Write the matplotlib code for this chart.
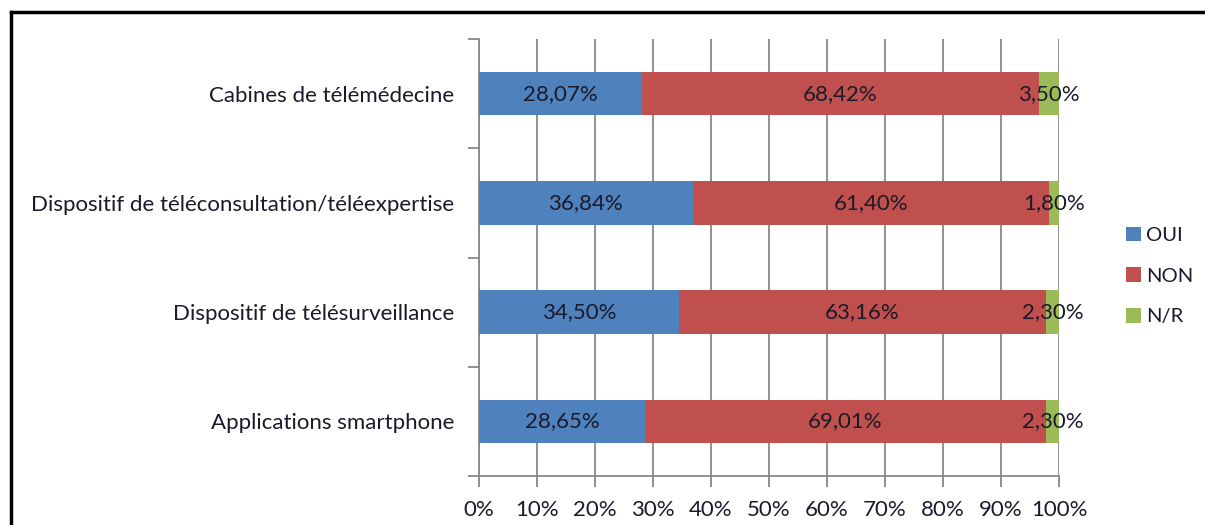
import matplotlib
matplotlib.use("Agg")
import matplotlib.pyplot as plt
from matplotlib.lines import Line2D
from matplotlib.patches import Patch
import numpy as np

categories = ["Cabines de télémédecine",
              "Dispositif de téléconsultation/téléexpertise",
              "Dispositif de télésurveillance",
              "Applications smartphone"]
oui = [28.07, 36.84, 34.50, 28.65]
non = [68.42, 61.40, 63.16, 69.01]
nr = [3.50, 1.80, 2.30, 2.30]
series_names = ["OUI", "NON", "N/R"]
colors = ["#4F81BD", "#C0504D", "#9BBB59"]
xtick_labels = ["0%", "10%", "20%", "30%", "40%", "50%", "60%", "70%", "80%", "90%", "100%"]

plt.rcParams['font.family'] = ['Lato', 'DejaVu Sans']
FS = 16

fig = plt.figure(figsize=(12.05, 5.25), dpi=100)
ax = fig.add_axes([479/1205, 1-476/525, (1059-479)/1205, (476-39)/525])

data = np.array([oui, non, nr])
totals = data.sum(axis=0)
shares = data / totals * 100
y = np.arange(len(categories))[::-1]
left = np.zeros(len(categories))
for i, name in enumerate(series_names):
    ax.barh(y, shares[i], left=left, height=0.4, color=colors[i], label=name, zorder=3)
    for j in range(len(categories)):
        ax.text(left[j] + shares[i][j] / 2, y[j], f"{data[i][j]:.2f}%".replace('.', ','),
                ha='center', va='center', fontsize=FS, color='#1a1a2a', zorder=4)
    left = left + shares[i]

ax.set_xlim(0, 100)
ax.set_ylim(-0.5, len(categories) - 0.5)
ax.set_xticks(np.arange(0, 101, 10))
ax.set_xticklabels(xtick_labels, fontsize=FS, color='#1a1a2a')
ax.set_yticks(y)
ax.set_yticklabels(categories, fontsize=FS, color='#1a1a2a')
ax.tick_params(axis='y', length=0, pad=18)
ax.set_yticks(np.arange(-0.5, len(categories), 1), minor=True)
ax.tick_params(axis='y', which='minor', length=8, direction='out', color='#888888', width=1.3)
ax.tick_params(axis='x', length=8, direction='out', color='#888888', width=1.3, pad=9)
ax.grid(axis='x', color='#888888', linewidth=1.3, zorder=0)
for s in ['top', 'right']:
    ax.spines[s].set_visible(False)
ax.spines['left'].set_color('#888888')
ax.spines['left'].set_linewidth(1.3)
ax.spines['bottom'].set_color('#888888')
ax.spines['bottom'].set_linewidth(1.3)

handles = [Patch(facecolor=c, edgecolor='none') for c in colors]
fig.legend(handles, series_names, loc='center left', bbox_to_anchor=(1126/1205, 1-276/525),
           frameon=False, fontsize=14.5, handlelength=0.75, handleheight=0.75,
           handletextpad=0.25, labelspacing=1.15, borderpad=0, borderaxespad=0,
           labelcolor='#1a1a2a')

fig.add_artist(Line2D([10.5/1205, 1.0], [1-11.5/525, 1-11.5/525], color='black', linewidth=2.5, transform=fig.transFigure))
fig.add_artist(Line2D([10.5/1205, 10.5/1205], [1-11.5/525, 0], color='black', linewidth=2.5, transform=fig.transFigure))

fig.savefig("out.png", dpi=100)
